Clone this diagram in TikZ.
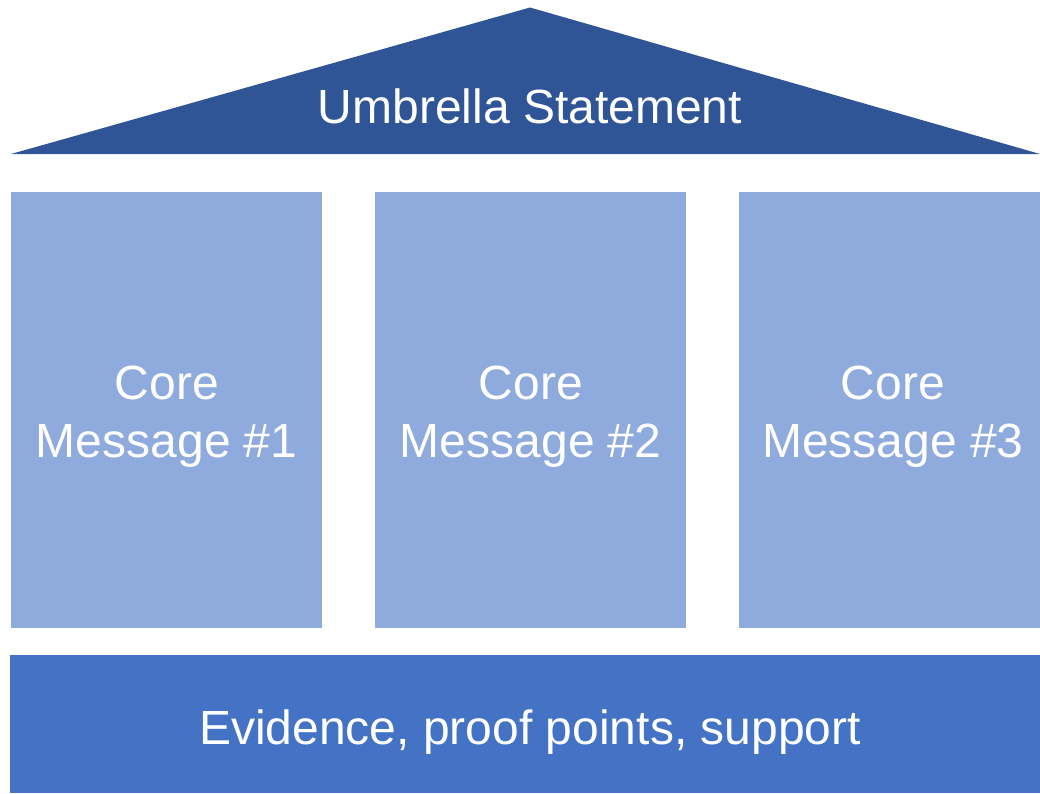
\documentclass[tikz,border=0pt]{standalone}
\usepackage{fontspec}
\setmainfont{Liberation Sans}
\definecolor{roofblue}{HTML}{2F5597}
\definecolor{pillarblue}{HTML}{8FAADC}
\definecolor{baseblue}{HTML}{4472C4}
\begin{document}
\begin{tikzpicture}[x=1pt,y=-1pt,
  pillar/.style={fill=pillarblue, draw=none, inner sep=0pt, anchor=north west, minimum width=311pt, minimum height=436pt},
  label/.style={text=white, font=\fontsize{48}{58}\selectfont, inner sep=0pt, anchor=base}]
\useasboundingbox (0,0) rectangle (1040,793);
% roof
\coordinate (rl) at (11,154);
\coordinate (rt) at (530,7.5);
\coordinate (rr) at (1040,154);
\fill[roofblue] (rl) -- (rt) -- (rr) -- cycle;
\node[label] (umb) at (530,123) {Umbrella Statement};
% pillars
\node[pillar] (p1) at (11,192) {};
\node[pillar] (p2) at (375,192) {};
\node[pillar, minimum width=301pt] (p3) at (739,192) {};
\node[label] (c1a) at (p1.center |- 0,399) {Core};
\node[label] (c1b) at (p1.center |- 0,457) {Message \#1};
\node[label] (c2a) at (p2.center |- 0,399) {Core};
\node[label] (c2b) at (p2.center |- 0,457) {Message \#2};
\node[label] (c3a) at (893,399) {Core};
\node[label] (c3b) at (893,457) {Message \#3};
% base
\node[fill=baseblue, draw=none, inner sep=0pt, anchor=north west, minimum width=1030pt, minimum height=138pt] (base) at (10,655) {};
\node[label] (ev) at (530,744) {Evidence, proof points, support};
\end{tikzpicture}
\end{document}
